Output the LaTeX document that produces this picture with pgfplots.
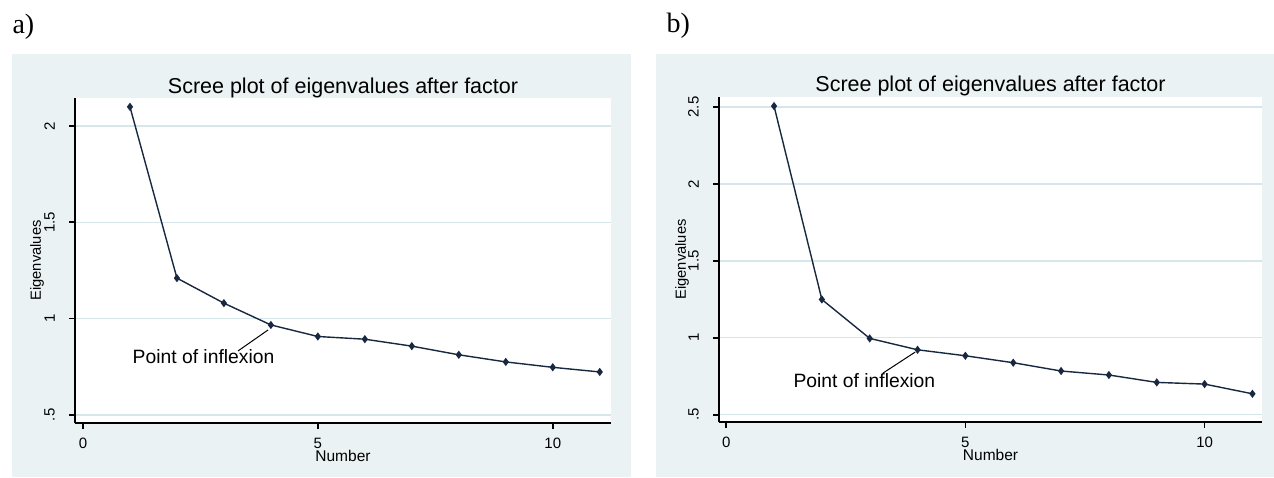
\documentclass[border=0pt]{standalone}
\usepackage{pgfplots}
\pgfplotsset{compat=1.18}
\usepackage{fontspec}
\setmainfont{Liberation Sans}
\newfontfamily\seriffont{Liberation Serif}
\definecolor{bg}{RGB}{234,242,243}
\definecolor{gridc}{RGB}{214,230,235}
\definecolor{stnavy}{RGB}{24,40,64}
\newcommand{\rl}[1]{\rotatebox{90}{#1}}

\pgfplotsset{scree/.style={
  scale only axis,
  axis x line*=bottom, axis y line*=left,
  axis line style={black, line width=1.8pt},
  axis background/.style={fill=white},
  ymajorgrids, major grid style={gridc, line width=1.4pt},
  tick align=outside, major tick length=6pt,
  tick style={black, line width=1.6pt},
  xtick={0,5,10},
  /pgf/number format/assume math mode=true,
  tick label style={font=\fontsize{15}{15}\selectfont},
  yticklabel style={anchor=east, inner sep=0pt, xshift=-14pt},
  xticklabel style={anchor=north, inner sep=0pt, yshift=-9pt},
  title style={at={(axis description cs:0.5,1)}, anchor=base, yshift=-1pt, font=\fontsize{21.5}{22}\selectfont},
  xlabel style={at={(axis description cs:0.5,0)}, anchor=base, yshift=-38pt, font=\fontsize{15.5}{16}\selectfont},
  ylabel style={at={(axis description cs:0,0.5)}, anchor=center, font=\fontsize{14.7}{15}\selectfont},
  clip=false,
  title={Scree plot of eigenvalues after factor},
  xlabel={Number}, ylabel={Eigenvalues},
},
screeline/.style={stnavy, line width=1.4pt, mark=diamond*, mark size=3pt, mark options={fill=stnavy, solid}},
}

\begin{document}
\begin{tikzpicture}
\fill[white] (0pt,0pt) rectangle (1274pt,477pt);
\fill[bg] (12pt,0pt) rectangle (631pt,423pt);
\fill[bg] (656pt,0pt) rectangle (1274pt,423pt);
\node[anchor=base west, font=\seriffont\fontsize{28}{28}\selectfont] at (9pt,443pt) {a)};
\node[anchor=base west, font=\seriffont\fontsize{28}{28}\selectfont] at (663pt,444pt) {b)};

\begin{axis}[scree, at={(75pt,54pt)}, anchor=south west, width=536pt, height=325pt,
  xmin=-0.17, xmax=11.24, ymin=0.458, ymax=2.145,
  ytick={0.5,1,1.5,2}, yticklabels={\rl{.5},\rl{1},\rl{1.5},\rl{2}},
  ylabel style={yshift=38pt}]
\addplot[screeline] coordinates {(1,2.099) (2,1.21) (3,1.08) (4,0.967) (5,0.907) (6,0.893) (7,0.857) (8,0.812) (9,0.775) (10,0.747) (11,0.723)};
\node[anchor=base west, font=\fontsize{19.3}{20}\selectfont] at (axis cs:0.983,0.769) {Point of inflexion};
\draw[black, line width=1pt] (axis cs:3.30,0.832) -- (axis cs:3.94,0.941);
\end{axis}

\begin{axis}[scree, at={(719pt,55pt)}, anchor=south west, width=543pt, height=325pt,
  xmin=-0.15, xmax=11.2, ymin=0.4526, ymax=2.565,
  ytick={0.5,1,1.5,2,2.5}, yticklabels={\rl{.5},\rl{1},\rl{1.5},\rl{2},\rl{2.5}},
  ylabel style={yshift=37pt}]
\addplot[screeline] coordinates {(1,2.506) (2,1.249) (3,0.996) (4,0.922) (5,0.883) (6,0.838) (7,0.784) (8,0.758) (9,0.710) (10,0.699) (11,0.636)};
\node[anchor=base west, font=\fontsize{19.3}{20}\selectfont] at (axis cs:1.335,0.680) {Point of inflexion};
\draw[black, line width=1pt] (axis cs:3.28,0.771) -- (axis cs:3.95,0.907);
\end{axis}

\pgfresetboundingbox
\path (0pt,0pt) rectangle (1274pt,477pt);
\end{tikzpicture}
\end{document}
